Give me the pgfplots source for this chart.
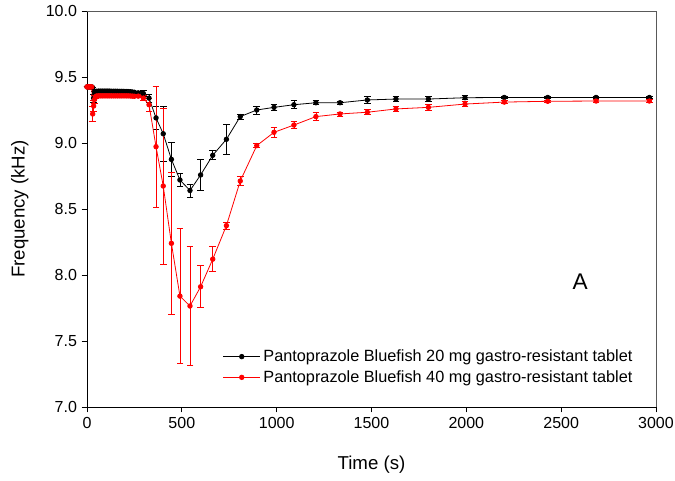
\documentclass[border=0pt]{standalone}
\usepackage{pgfplots}
\usepackage{pgfplotstable}
\pgfplotsset{compat=1.18}
\usepackage{fontspec}
\setmainfont{Liberation Sans}

\pgfplotstableread{
t f e
0 9.425 0
5 9.425 0
10 9.425 0
15 9.425 0
20 9.425 0
25 9.425 0
30 9.42 0
35 9.34 0.03
40 9.38 0.01
45 9.39 0.01
50 9.392 0.005
60 9.393 0.005
70 9.393 0.005
80 9.393 0.005
90 9.393 0.005
100 9.393 0.005
110 9.393 0.005
120 9.393 0.005
130 9.392 0.005
140 9.392 0.005
150 9.392 0.005
160 9.392 0.005
170 9.391 0.005
180 9.391 0.005
190 9.391 0.005
200 9.390 0.005
210 9.390 0.005
220 9.389 0.005
230 9.388 0.005
240 9.386 0.005
250 9.384 0.005
270 9.38 0.01
297 9.375 0.02
327 9.34 0.03
364 9.19 0.09
402 9.07 0.21
445 8.876 0.13
490 8.72 0.05
543 8.64 0.05
599 8.758 0.12
663 8.907 0.035
735 9.028 0.115
808 9.20 0.02
895 9.25 0.03
986 9.27 0.025
1091 9.29 0.03
1207 9.305 0.015
1334 9.305 0.01
1478 9.326 0.025
1629 9.333 0.02
1800 9.333 0.02
1993 9.343 0.015
2200 9.345 0.01
2429 9.345 0.01
2684 9.345 0.01
2965 9.345 0.01
}\blackdata

\pgfplotstableread{
t f e
0 9.425 0
5 9.425 0
10 9.425 0
15 9.425 0
20 9.425 0
25 9.425 0
30 9.22 0.06
35 9.28 0.04
40 9.33 0.03
45 9.35 0.01
50 9.356 0.005
60 9.357 0.005
70 9.357 0.005
80 9.357 0.005
90 9.357 0.005
100 9.357 0.005
110 9.357 0.005
120 9.357 0.005
130 9.357 0.005
140 9.357 0.005
150 9.357 0.005
160 9.357 0.005
170 9.357 0.005
180 9.357 0.005
190 9.357 0.005
200 9.357 0.005
210 9.357 0.005
220 9.357 0.005
230 9.356 0.005
240 9.355 0.005
250 9.354 0.005
270 9.355 0.01
297 9.34 0.02
327 9.29 0.05
364 8.972 0.46
402 8.674 0.59
445 8.24 0.54
490 7.84 0.51
543 7.765 0.45
599 7.911 0.16
663 8.12 0.095
735 8.374 0.025
808 8.712 0.035
895 8.98 0.015
986 9.081 0.04
1091 9.136 0.025
1207 9.20 0.03
1334 9.22 0.015
1478 9.233 0.02
1629 9.258 0.02
1800 9.27 0.02
1993 9.295 0.02
2200 9.31 0.01
2429 9.316 0.01
2684 9.318 0.01
2965 9.318 0.01
}\reddata

\begin{document}
\begin{tikzpicture}
\begin{axis}[
  at={(0,0)}, anchor=origin,
  scale only axis,
  width=426.75pt, height=297pt,
  xmin=0, xmax=3000, ymin=7, ymax=10,
  xtick={0,500,...,3000},
  ytick={7,7.5,...,10},
  axis lines*=left,
  tick align=outside,
  major tick length=4pt,
  tick style={black, line width=0.6pt},
  axis line style={black, line width=0.7pt},
  minor tick num=0,
  tick label style={font=\fontsize{12}{14}\selectfont},
  /pgf/number format/assume math mode=true,
  xticklabel style={/pgf/number format/1000 sep={}},
  yticklabel style={/pgf/number format/.cd, fixed, fixed zerofill, precision=1},
  xlabel={Time (s)},
  ylabel={Frequency (kHz)},
  every axis x label/.style={at={(axis description cs:0.5,-0.146)}, anchor=center, font=\fontsize{14}{16}\selectfont},
  every axis y label/.style={at={(axis description cs:-0.118,0.5)}, anchor=center, rotate=90, font=\fontsize{14}{16}\selectfont},
  clip=false,
  legend style={at={(rel axis cs:0.238,0.152)}, anchor=north west, draw=none, fill=none,
    font=\fontsize{12.2}{14}\selectfont, inner sep=0pt, row sep=1.2pt},
  legend cell align=left,
  legend image code/.code={\draw[mark repeat=2,mark phase=2] plot coordinates {(0pt,0pt) (14pt,0pt) (28pt,0pt)};},
  error bars/error bar style={line width=0.6pt},
  error bars/error mark options={rotate=90, mark size=2.5pt, line width=0.6pt},
]
\draw[gray!70!black, line width=0.7pt] (rel axis cs:0,1) -- (rel axis cs:1,1) -- (rel axis cs:1,0);
\addplot[black, line width=0.6pt, mark=*, mark size=1.7pt,
  error bars/.cd, y dir=both, y explicit]
  table[x=t, y=f, y error=e] {\blackdata};
\addlegendentry{Pantoprazole Bluefish 20 mg gastro-resistant tablet}
\addplot[red, line width=0.6pt, mark=*, mark size=1.7pt,
  error bars/.cd, y dir=both, y explicit]
  table[x=t, y=f, y error=e] {\reddata};
\addlegendentry{Pantoprazole Bluefish 40 mg gastro-resistant tablet}
\node[font=\fontsize{17}{19}\selectfont] at (axis cs:2600,7.95) {A};
\end{axis}
\pgfresetboundingbox
\useasboundingbox (-65.25pt,-55.5pt) rectangle (441pt,305.25pt);
\end{tikzpicture}
\end{document}
